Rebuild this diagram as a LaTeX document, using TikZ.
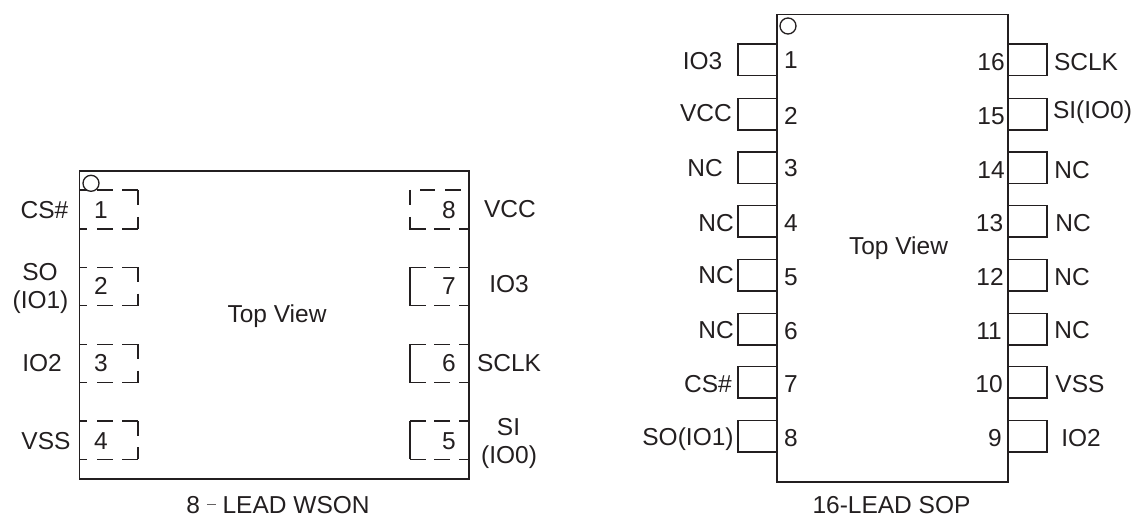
\documentclass[tikz,border=0pt]{standalone}
\usepackage{fontspec}
\setmainfont{Liberation Sans}
\definecolor{ink}{RGB}{35,31,32}
\tikzset{
  x=1pt,y=-1pt,
  pkg/.style={draw=ink,line width=1.6pt,line cap=rect},
  padl/.style={draw=ink,line width=1.5pt},
  ring/.style={draw=ink,line width=1.3pt},
  lbl/.style={font=\fontsize{24.5pt}{28pt}\selectfont,text=ink,inner sep=0pt,anchor=center,align=center},
}
\begin{document}
\begin{tikzpicture}
\useasboundingbox (0,0) rectangle (1133,518);
% WSON
\draw[pkg] (79.5,171) rectangle (469,479);
\draw[ring] (91,183.3) circle (8);
\foreach \t/\b in {190/229,267.3/305.7,344.3/382.7,421/459.3}{
  \foreach \y in {\t,\b}{
    \draw[padl] (80,\y)--(87,\y) (97,\y)--(113,\y) (122,\y)--(138,\y);
  }
  \pgfmathsetmacro\ya{\t+15}\pgfmathsetmacro\yb{\b-12}
  \draw[padl] (138,\t)--(138,\ya) (138,\yb)--(138,\b);
}
\foreach \t/\b in {267.3/305.7,344.3/382.7,421/459.3}{
  \foreach \y in {\t,\b}{
    \draw[padl] (410,\y)--(426,\y) (434,\y)--(450,\y) (459,\y)--(469,\y);
  }
  \draw[padl] (410,\t)--(410,\b);
}
\draw[padl] (420,190)--(435,190) (445,190)--(461,190);
\draw[padl] (410,190)--(410,205) (410,217)--(410,229)--(426,229) (434,229)--(450,229) (459,229)--(469,229);
\node[lbl] (w1) at (101,210) {1};
\node[lbl] (w2) at (101,286) {2};
\node[lbl] (w3) at (101,363) {3};
\node[lbl] (w4) at (101,441) {4};
\node[lbl] (w8) at (449,210) {8};
\node[lbl] (w7) at (449,286) {7};
\node[lbl] (w6) at (449,363) {6};
\node[lbl] (w5) at (449,441) {5};
\node[lbl] (wcs) at (44.5,210) {CS\#};
\node[lbl] (wso) at (40,272) {SO};
\node[lbl] (wio1) at (40.5,302) {(IO1)};
\node[lbl] (wio2) at (42,363) {IO2};
\node[lbl] (wvss) at (46,441) {VSS};
\node[lbl] (wvcc) at (510,209) {VCC};
\node[lbl] (wio3) at (509,284) {IO3};
\node[lbl] (wsclk) at (509,363) {SCLK};
\node[lbl] (wsi) at (508.5,427) {SI};
\node[lbl] (wio0) at (509,457) {(IO0)};
\node[lbl] (wtv) at (277,316) {Top View};
\node[lbl] (wt) at (278,505) {8 \raisebox{8pt}{\textcolor{ink!70}{\rule{9pt}{1pt}}} LEAD WSON};
% SOP
\draw[pkg] (777,14.5) rectangle (1008,482);
\draw[ring] (788,26) circle (8);
\foreach \i/\yt/\l/\r/\lx/\ly/\rx/\ry/\nl/\nr/\nly/\nrx/\nry in {
 0/44/IO3/SCLK/702.5/61.5/1086/62/1/16/60/991/62,
 1/98.7/VCC/SI(IO0)/706/113/1092.5/112/2/15/116/991/116,
 2/152/NC/NC/705/168/1072/170/3/14/168/991/170,
 3/205.7/NC/NC/716/223/1073/223/4/13/223/989.5/223,
 4/259.3/NC/NC/716/275/1072/277/5/12/277/990/277,
 5/313.3/NC/NC/716/330/1072/330/6/11/331/989/331,
 6/366.7/CS\#/VSS/708/384/1080/384/7/10/384/989/384,
 7/420.7/SO(IO1)/IO2/688/439/1081/438/8/9/438/995/438}{
  \pgfmathsetmacro\yb{\yt+31.5}
  \draw[padl] (777,\yt)--(738,\yt)--(738,\yb)--(777,\yb);
  \draw[padl] (1008,\yt)--(1047,\yt)--(1047,\yb)--(1008,\yb);
  \node[lbl] (sl\i) at (\lx,\ly) {\l};
  \node[lbl] (sr\i) at (\rx,\ry) {\r};
  \node[lbl] (sn\i) at (791,\nly) {\nl};
  \node[lbl] (sm\i) at (\nrx,\nry) {\nr};
}
\node[lbl] (stv) at (898.5,248) {Top View};
\node[lbl] (st) at (891.5,505) {16-LEAD SOP};
\end{tikzpicture}
\end{document}
